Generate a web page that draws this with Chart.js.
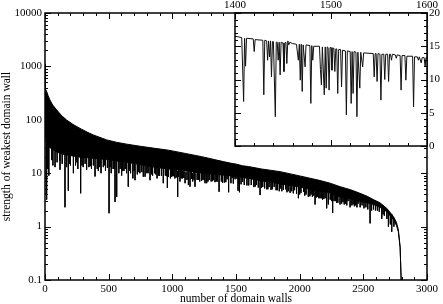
<!DOCTYPE html>
<html><head><meta charset="utf-8">
<script src="https://cdn.jsdelivr.net/npm/chart.js@4"></script>
<style>
html,body{margin:0;padding:0;background:#fff;}
#wrap{position:relative;width:443px;height:304px;overflow:hidden;}
#main{position:absolute;left:0;top:0;}
#inset{position:absolute;left:200px;top:0;}
</style></head><body>
<div id="wrap"><canvas id="main" width="443" height="304"></canvas><canvas id="inset" width="243" height="150"></canvas></div>
<script>
// ---- main curve: upper envelope and lower edge of the dense band ----
const envX   = [0,1,3,6,13,25,39,60,92,130, 170,220,275,330,380,485,560,642,746,850, 969,1100,1231,1330,1400,1453,1500,1550,1600,1700, 1846,2000,2160,2239,2317,2400,2474,2530,2579,2630, 2684,2736,2760,2775,2789,2797,2805];
const envTop = [1100,700,450,380,340,280,235,190,153,120, 99,82,69,59,52,42,38,35,32,29.5, 27,23.5,20.4,18,16.5,15.5,14.8,13.8,13.3,12.0, 10.7,8.9,7.3,6.5,5.6,4.9,4.2,3.7,3.2,2.8, 2.2,1.55,1.2,0.87,0.42,0.1,0.03];
const envLow = [200,150,80,50,40,32,30,28,25,23, 22,21,20,19.5,19,18,17,16,14.5,13, 12,11,10,9.5,9.2,9,8.6,8.3,8,7.2, 6.3,5.5,4.6,4.3,3.6,3.3,3.0,2.8,2.6,2.3, 1.9,1.35,1.05,0.8,0.4,0.1,0.03];

// ---- main curve: deep downward spikes ----
const spikeX = [10,13,22,30,53,62,79,95,118,135, 157,170,183,200,223,240,258,280,300,327, 345,365,393,410,419,440,458,475,503,520, 535,550,563,580,602,620,640,654,672,690, 707,725,745,772,786,800,825,845,860,880, 900,929,945,961,985,1000,1020,1042,1060,1080, 1100,1115,1126,1139,1160,1178,1195,1215,1240,1257, 1270,1290,1305,1322,1345,1367,1385,1409,1430,1442, 1470,1479,1493,1507,1516,1521,1527,1552,1586,1620, 1640,1660,1689,1710,1741,1760,1785,1800,1825,1850, 1872,1890,1910,1937,1960,1990,2010,2030,2050,2068, 2090,2110,2121,2140,2160,2180,2200,2212,2225,2240, 2259,2280,2300,2317,2340,2360,2380,2396,2420,2440, 2460,2490,2520,2553,2580,2610,2645,2665,2685,2697, 2712,2723,2740];
const spikeLow = [4.0,3.2,12,9,17.6,14,13,16,11.6,15, 2.3,13,4.7,14,10,14,12,4.2,13,11.6, 13,12,8.7,12,11,10,13,11,1.78,10, 12,2.9,3.6,10,9,11,10,5.6,10,8, 7.4,9.5,10,8.6,8.6,10,7.4,9,10,8, 9,6.5,9,5.3,8,9,8,3.6,7,8, 6.5,7.5,6.0,5.6,7,5.6,7.5,7,7.5,6.5, 6.5,7.5,7,7.4,7,4.5,7,6.7,7.7,4.4, 8.2,6.4,7.7,7.9,4.7,6.4,4.4,6.9,5.9,6, 5.5,6,3.9,5.5,5.0,5.5,5,5.5,4.8,5.2, 4.9,5,4.6,4.6,4.8,3.4,4.3,4.5,4.0,3.6, 4.0,3.8,2.6,3.6,3.4,3.2,3.4,2.2,2.6,3.2, 1.8,3.0,2.8,2.6,2.9,2.7,3.0,2.3,2.6,2.5, 2.7,2.5,2.3,1.15,2.1,2.0,1.4,1.6,1.4,1.0, 1.1,0.8,1.0];
const spikeTop = [200,150,100,90,80,70,60,55,45,42, 38,36,34,32,30,28,27,26,25,24, 23,22,22,21,21,20,20,19,19,18, 18,18,17,17,17,16,16,16,16,15, 15,15,14.5,14,14,14,13.5,13,13,13, 12.5,12.5,12,12,12,11.5,11.5,11,11,11, 10.5,10.5,10.5,10.5,10,10,10,10,10,9.8, 9.8,9.7,9.6,9.6,9.5,9.4,9.3,9.2,9.1,9, 9,8.9,8.7,8.6,8.5,8.5,8.5,8.3,8.1,8, 7.9,7.7,7.5,7.3,7.1,7,6.9,6.8,6.6,6.5, 6.3,6.2,6.1,6,5.9,5.8,5.6,5.5,5.4,5.3, 5.2,5.1,5,4.9,4.8,4.7,4.6,4.5,4.5,4.4, 4.3,4.2,4.0,3.9,3.8,3.7,3.6,3.5,3.4,3.3, 3.2,3.1,3.0,2.9,2.8,2.6,2.4,2.2,2.0,2.0, 1.8,1.7,1.4];

// ---- main curve: shallower spikes that fray the band's lower edge ----
const midX = [115,190,250,290,315,355,380,430,465,490, 512,545,590,610,630,662,700,735,760,810, 835,870,890,915,955,970,995,1010,1030,1050, 1070,1090,1150,1170,1205,1230,1250,1280,1315,1335, 1355,1395,1420,1460,1540,1565,1600,1650,1675,1700, 1725,1750,1775,1815,1840,1860,1900,1925,1950,1975, 2000,2040,2080,2100,2130,2150,2170,2190,2250,2270, 2290,2330,2350,2370,2410,2430,2450,2475,2505,2535, 2565,2595,2625,2655];
const midLow = [17,15,16,14,15,13.5,14,13,14,12.5, 13,12,12,11,12,11,11,10.5,10.5,10, 9.5,9.5,9,9,8.8,8.5,8.5,8.8,8.3,8.5, 8.0,8.2,7.8,7.6,7.5,7.2,7.4,7.0,7.1,6.8, 7.0,6.6,6.8,6.5,6.2,6.0,5.9,5.6,5.4,5.3, 5.2,5.0,4.9,4.8,4.6,4.6,4.4,4.3,4.2,4.1, 4.0,3.8,3.7,3.6,3.5,3.4,3.4,3.3,3.0,3.0, 2.8,2.7,2.6,2.5,2.5,2.4,2.3,2.3,2.2,2.1, 2.0,2.0,1.9,1.7];
const midTop = [27,25,23.5,23,22.5,22,22,21,21,20.5, 20,20,19,19,18.5,18,17.5,17,16.5,15.5, 15,14.7,14.5,14,14,13.8,13.5,13.5,13.2,13, 13,12.8,12.2,12,11.7,11.5,11.4,11.3,11,11, 10.8,10.6,10.5,10.3,9.7,9.4,9.2,8.7,8.5,8.3, 8.0,7.8,7.7,7.5,7.2,7.1,6.9,6.8,6.6,6.4, 6.3,6.0,5.8,5.6,5.4,5.3,5.3,5.2,4.7,4.6, 4.4,4.1,4.0,3.9,3.8,3.7,3.6,3.5,3.3,3.2, 3.1,3.0,2.8,2.5];

// ---- inset: walls 1400..1600, linear scale ----
const insetX = [1400,1404,1407,1409,1410,1411,1412,1419,1420,1421, 1429,1430,1431,1433,1434,1435,1436,1437,1438,1439, 1440,1442,1443,1444,1445,1446,1447,1448,1450,1451, 1452,1453,1454,1455,1456,1457,1460,1464,1466,1467, 1468,1469,1470,1471,1473,1474,1478,1479,1480,1481, 1482,1488,1489,1490,1491,1493,1494,1495,1496,1497, 1498,1499,1500,1501,1502,1503,1504,1505,1506,1507, 1508,1510,1511,1512,1515,1516,1517,1520,1521,1522, 1523,1524,1526,1527,1528,1530,1531,1533,1534,1544, 1545,1546,1547,1548,1549,1551,1552,1553,1555,1556, 1557,1559,1560,1561,1562,1563,1564,1567,1568,1569, 1572,1573,1574,1577,1578,1579,1585,1586,1587,1590, 1591,1592,1594,1595,1597,1598,1599,1600];
const insetY = [16.5,16.4,16.3,6.7,16.2,12.0,16.2,16.1,14.2,16.0, 15.9,7.7,15.9,15.8,12.9,15.8,13.4,15.8,10.4,15.7, 15.7,4.4,15.6,15.6,12.9,15.6,10.7,15.6,15.5,11.2, 15.5,15.6,12.4,15.8,15.2,15.6,15.4,15.3,12.9,15.3, 9.9,15.3,8.2,15.2,11.9,15.2,15.1,6.4,15.1,12.9, 15.0,15.0,11.5,9.2,14.9,7.7,14.9,8.7,14.9,14.8, 8.4,14.8,14.8,11.4,14.7,14.7,11.2,14.6,14.6,7.9, 14.5,14.5,8.9,14.4,14.3,4.7,14.3,14.2,6.4,14.2, 7.9,14.2,14.1,4.4,14.1,8.7,14.1,11.9,14.0,13.9, 10.4,13.9,13.9,9.7,13.9,13.8,6.9,13.8,13.8,10.0, 13.8,13.8,9.7,13.8,13.8,12.9,13.8,13.7,13.2,13.7, 13.6,8.4,13.6,13.6,9.9,13.5,13.5,5.9,13.4,13.4, 12.9,13.4,12.5,13.3,13.3,12.0,13.3,13.2];

// ---- tick labels ----
const mainXTicks = [0,500,1000,1500,2000,2500,3000];
const mainYTicks = [0.1,1,10,100,1000,10000];
const insetXTicks = [1400,1500,1600];
const insetYTicks = [0,5,10,15,20];

Chart.defaults.font.family = "'Liberation Serif', 'Times New Roman', serif";
Chart.defaults.font.size = 11;
Chart.defaults.color = '#000';

// inward tick marks (position, length)
const mainXMinor = []; for (let v = 0; v <= 3000; v += 100) mainXMinor.push([v, v % 500 === 0 ? 6 : 3]);
const mainYMinor = []; for (let e = -1; e < 4; e++) { const d = Math.pow(10, e); for (let k = 1; k < 10; k++) mainYMinor.push([d * k, k === 1 ? 6 : 3]); } mainYMinor.push([10000, 6]);
const insetXMinor = []; for (let v = 1400; v <= 1600; v += 20) insetXMinor.push([v, v % 100 === 0 ? 6 : 3]);
const insetYMinor = []; for (let v = 0; v <= 20; v += 1) insetYMinor.push([v, v % 5 === 0 ? 6 : 3]);

function frame(xt, yt, whiteBg) {
  return {
    id: 'frame',
    beforeDatasetsDraw(chart) {
      if (!whiteBg) return;
      const a = chart.chartArea, ctx = chart.ctx;
      ctx.save(); ctx.fillStyle = '#fff';
      ctx.fillRect(a.left, a.top, a.right - a.left, a.bottom - a.top);
      ctx.restore();
    },
    afterDatasetsDraw(chart) {
      const a = chart.chartArea, ctx = chart.ctx;
      const xs = chart.scales.x, ys = chart.scales.y;
      ctx.save();
      ctx.strokeStyle = '#000'; ctx.lineWidth = 1;
      ctx.beginPath();
      xt.forEach(([v, len]) => {
        const p = Math.round(xs.getPixelForValue(v)) + 0.5;
        ctx.moveTo(p, a.bottom); ctx.lineTo(p, a.bottom - len);
        ctx.moveTo(p, a.top); ctx.lineTo(p, a.top + len);
      });
      yt.forEach(([v, len]) => {
        const p = Math.round(ys.getPixelForValue(v)) + 0.5;
        ctx.moveTo(a.left, p); ctx.lineTo(a.left + len, p);
        ctx.moveTo(a.right, p); ctx.lineTo(a.right - len, p);
      });
      ctx.stroke();
      ctx.lineWidth = 1.5;
      ctx.strokeRect(a.left, a.top, a.right - a.left, a.bottom - a.top);
      ctx.restore();
    }
  };
}

const spikeData = [];
spikeX.forEach((x, i) => { spikeData.push({x: x, y: spikeTop[i]}, {x: x, y: spikeLow[i]}, {x: x, y: null}); });
const midData = [];
midX.forEach((x, i) => { midData.push({x: x, y: midTop[i]}, {x: x, y: midLow[i]}, {x: x, y: null}); });

const noPadX = h => s => { s.height = h; s.paddingLeft = 0; s.paddingRight = 0; };
const noPadY = w => s => { s.width = w; s.paddingTop = 0; s.paddingBottom = 0; };

new Chart(document.getElementById('main'), {
  type: 'line',
  data: { datasets: [
    { data: envX.map((x, i) => ({x: x, y: envTop[i]})), borderColor: '#000', borderWidth: 1, backgroundColor: '#000', fill: '+1', pointRadius: 0, tension: 0 },
    { data: envX.map((x, i) => ({x: x, y: envLow[i]})), borderColor: '#000', borderWidth: 1, pointRadius: 0, fill: false, tension: 0 },
    { data: spikeData, borderColor: '#000', borderWidth: 1, pointRadius: 0, fill: false, spanGaps: false },
    { data: midData, borderColor: '#000', borderWidth: 1, pointRadius: 0, fill: false, spanGaps: false }
  ]},
  options: {
    responsive: false, animation: false, events: [],
    layout: { padding: { top: 13, right: 16, left: 0, bottom: 0 } },
    plugins: { legend: { display: false }, tooltip: { enabled: false } },
    scales: {
      x: { type: 'linear', min: 0, max: 3000,
        grid: { display: false, drawTicks: false }, border: { display: false },
        afterBuildTicks: s => { s.ticks = mainXTicks.map(v => ({value: v})); },
        afterFit: noPadX(24),
        ticks: { padding: 3, maxRotation: 0, autoSkip: false, callback: v => String(v) },
        title: { display: true, text: 'number of domain walls', font: { size: 11.5, lineHeight: 0.8 }, padding: 0 } },
      y: { type: 'logarithmic', min: 0.1, max: 10000,
        grid: { display: false, drawTicks: false }, border: { display: false },
        afterBuildTicks: s => { s.ticks = mainYTicks.map(v => ({value: v})); },
        afterFit: noPadY(45),
        ticks: { padding: 3, autoSkip: false, callback: v => String(v) },
        title: { display: true, text: 'strength of weakest domain wall', font: { size: 11.5 }, padding: 0 } }
    }
  },
  plugins: [frame(mainXMinor, mainYMinor, false)]
});

new Chart(document.getElementById('inset'), {
  type: 'line',
  data: { datasets: [
    { data: insetX.map((x, i) => ({x: x, y: insetY[i]})), borderColor: '#111', borderWidth: 1, pointRadius: 0, fill: false, tension: 0 }
  ]},
  options: {
    responsive: false, animation: false, events: [],
    layout: { padding: { top: 0, right: 0, left: 35, bottom: 4 } },
    plugins: { legend: { display: false }, tooltip: { enabled: false } },
    scales: {
      x: { type: 'linear', position: 'top', min: 1400, max: 1600,
        grid: { display: false, drawTicks: false }, border: { display: false },
        afterBuildTicks: s => { s.ticks = insetXTicks.map(v => ({value: v})); },
        afterFit: noPadX(13),
        ticks: { padding: 1, maxRotation: 0, autoSkip: false, callback: v => String(v) } },
      y: { type: 'linear', position: 'right', min: 0, max: 20,
        grid: { display: false, drawTicks: false }, border: { display: false },
        afterBuildTicks: s => { s.ticks = insetYTicks.map(v => ({value: v})); },
        afterFit: noPadY(16),
        ticks: { padding: 2, autoSkip: false, callback: v => String(v) } }
    }
  },
  plugins: [frame(insetXMinor, insetYMinor, true)]
});
</script>
</body></html>
